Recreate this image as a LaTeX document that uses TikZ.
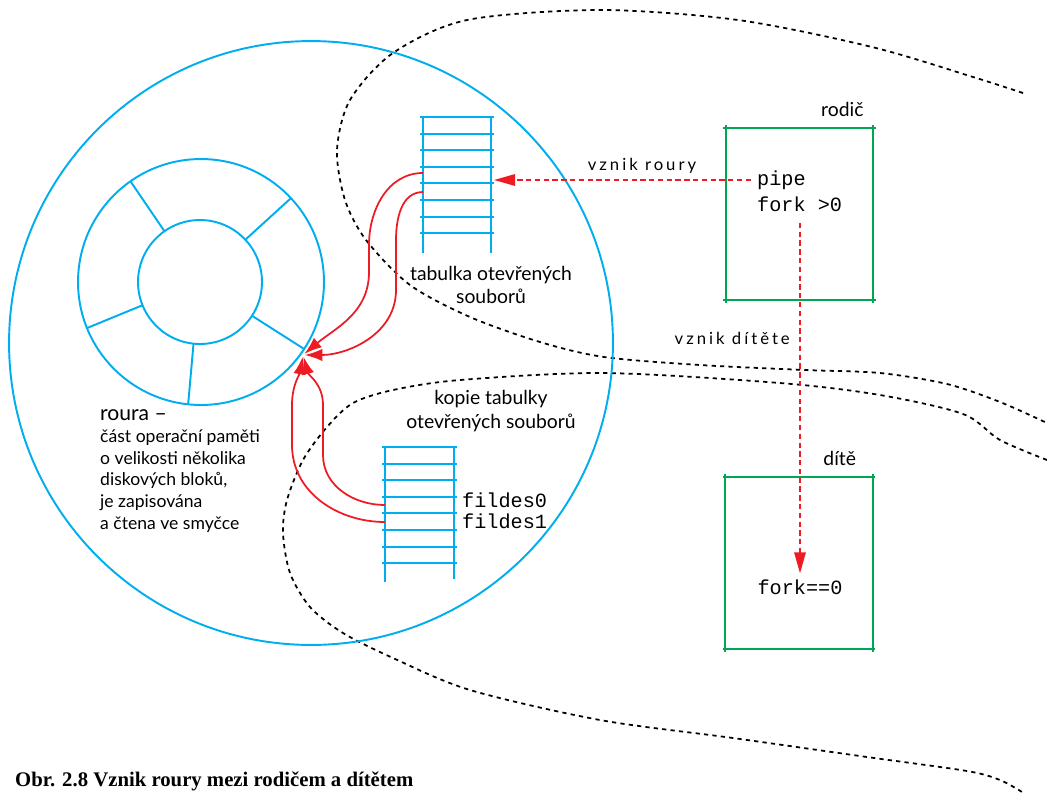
\documentclass[tikz,border=0pt]{standalone}
\usepackage{fontspec}
\setmainfont{Lato}
\setmonofont{Liberation Mono}
\newfontfamily\capfont{Liberation Serif}
\newfontfamily\spacedfont[LetterSpace=18]{Lato}
\usetikzlibrary{arrows.meta,positioning}
\definecolor{pipeblue}{HTML}{00AEEF}
\definecolor{procgreen}{HTML}{00A651}
\definecolor{linkred}{HTML}{ED1C24}

\begin{document}
\begin{tikzpicture}[x=0.02cm,y=-0.02cm,
ring/.style={draw=pipeblue,line width=1.1pt,circle,inner sep=0pt,outer sep=0pt},
rung/.style={pipeblue,line width=1.1pt},
fdarrow/.style={linkred,line width=1pt,shorten >=1pt,-{Latex[length=10pt,width=7pt]}},
callarr/.style={linkred,line width=1.1pt,dash pattern=on 3pt off 2pt,-{Triangle[length=12pt,width=6.5pt]}},
proc/.style={minimum width=2.95cm,minimum height=3.44cm,inner sep=0pt,outer sep=0pt},
side/.style={procgreen,line width=1.1pt,shorten <=-1.5pt,shorten >=-1.5pt},
region/.style={black,line width=1pt,dash pattern=on 2.4pt off 2.4pt},
lbl/.style={font=\fontsize{11}{13.6}\selectfont,align=center},
code/.style={font=\ttfamily\fontsize{11.5}{14}\selectfont},
note/.style={font=\spacedfont\fontsize{9.5}{11}\selectfont}]
\clip (0,0) rectangle (1047,792);

% process regions
\draw[region] plot[smooth] coordinates {(1023,93) (973,77) (872,47) (738,20) (600,10) (467,20)
  (393,53) (350,100) (337,150) (345,200) (366,240) (410,285) (470,317) (540,342) (604,357)
  (700,365) (805,370) (880,373) (947,384) (1000,402) (1047,423)};
\draw[region] plot[smooth] coordinates {(1047,460) (1000,440) (963,414) (880,395) (780,383)
  (604,373) (460,380) (393,390) (353,403) (327,427) (303,460) (287,500) (283,533) (290,573)
  (310,607) (343,633) (393,658) (470,690) (600,720) (733,738) (867,757) (967,771) (1000,780)
  (1022,792)};

% memory and pipe
\node[ring,minimum size=12.08cm] (mem) at (311,343) {};
\node[ring,minimum size=4.92cm] (ring) at (201,282) {};
\node[ring,minimum size=2.48cm] (hub) at (200,282) {};
\foreach \a in {43,125,202,264,327}
  \draw[rung] (hub.\a) -- (ring.\a);

% open file tables
\draw[rung] (423,117) -- (423,253);
\draw[rung] (491,117) -- (491,253);
\foreach \i in {0,...,7}
  \draw[rung] (420,{117+16.6*\i}) -- (494,{117+16.6*\i});
\draw[rung] (385,447) -- (385,582);
\draw[rung] (454,447) -- (454,579);
\foreach \i in {0,...,7}
  \draw[rung] (382,{447+16.6*\i}) -- (457,{447+16.6*\i});

\coordinate (tab1) at (423,173);
\coordinate (tab2) at (423,192);
\coordinate (tabin) at (494,182);
\coordinate (copy1) at (385,505);
\coordinate (copy2) at (385,522);
\coordinate (tip) at (303,355);

\node[lbl] (tablbl) at (491,285) {tabulka otevřených\\souborů};
\node[lbl] (copylbl) at (491,411) {kopie tabulky\\otevřených souborů};
\node[anchor=north west,align=left,font=\fontsize{10}{12.5}\selectfont] (roura) at (94,403)
  {{\fontsize{12}{12.5}\selectfont roura –}\\část operační paměti\\o velikosti několika\\diskových bloků,\\je zapisována\\a čtena ve smyčce};
\node[code,anchor=west] (fd0) at (456,500) {fildes0};
\node[code,anchor=west] (fd1) at (456,521) {fildes1};

\draw[fdarrow] (tab1) to[out=180,in=90] (369,245) -- (369,272) to[out=-90,in=40] (tip);
\draw[fdarrow] (tab2) to[out=180,in=90] (396,240) -- (396,290) to[out=-90,in=0] (tip);
\draw[fdarrow] (copy1) to[out=180,in=-90] (323,455) -- (323,405) to[out=90,in=-75] (tip);
\draw[fdarrow] (copy2) to[out=180,in=-90] (292,445) -- (292,405) to[out=90,in=-100] (tip);

% parent and child
\node[proc] (parent) at (799.5,214) {};
\node[proc] (child) at (799,563) {};
\foreach \b in {parent,child}{
  \draw[side] (\b.north west) -- (\b.north east);
  \draw[side] (\b.south west) -- (\b.south east);
  \draw[side] (\b.north west) -- (\b.south west);
  \draw[side] (\b.north east) -- (\b.south east);
}
\node[lbl,anchor=south east] (rodic) at ([xshift=-2pt,yshift=3pt]parent.north east) {rodič};
\node[lbl,anchor=south east] (dite) at ([xshift=-6pt,yshift=3pt]child.north east) {dítě};
\node[code,anchor=west] (pipe) at (751,180) {pipe};
\node[code,anchor=west] (forkp) at (751,204) {fork >0};
\node[code] (forkc) at (800,587) {fork==0};

\draw[callarr] (pipe.west) -- (pipe.west -| tabin);
\node[note] (nroury) at (642,166) {vznik roury};
\draw[callarr,shorten <=3pt] (forkp.south -| forkc.north) -- (forkc.north);
\node[note,anchor=east] (ndite) at (796,338) {vznik dítěte};

\node[anchor=base west,font=\capfont\bfseries\fontsize{11.8}{13}\selectfont] (caption) at (9,786)
  {Obr. 2.8 Vznik roury mezi rodičem a dítětem};
\end{tikzpicture}
\end{document}
